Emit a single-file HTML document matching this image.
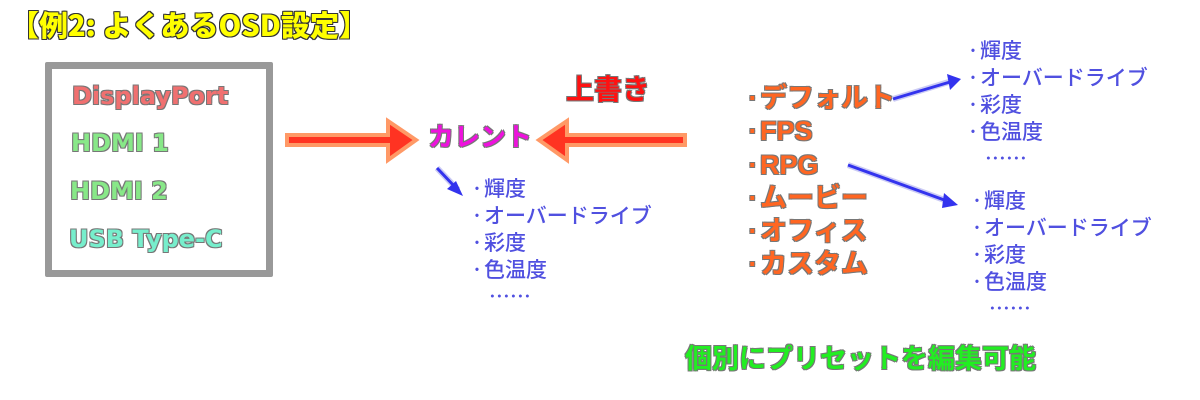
<!DOCTYPE html>
<html><head><meta charset="utf-8"><style>
body{margin:0;width:1200px;height:400px;background:#fff;position:relative;overflow:hidden;font-family:"Liberation Sans","Noto Sans CJK JP",sans-serif}
.t{position:absolute;white-space:nowrap;line-height:1}
.b{font-weight:bold}
.o{text-shadow:-1px -1px 0 #777,1px -1px 0 #777,-1px 1px 0 #777,1px 1px 0 #777}
.od{text-shadow:-1px -1px 0 #333,1px -1px 0 #333,-1px 1px 0 #333,1px 1px 0 #333,0 1px 0 #333,0 -1px 0 #333,1px 0 0 #333,-1px 0 0 #333}
.blue{color:#5050e0;font-size:21px;line-height:27px;font-family:"Noto Sans CJK JP",sans-serif;font-weight:500}
.blue span{display:inline-block;width:14px;text-align:center}
.pre{color:#ff6622;font-size:27px;font-weight:bold;line-height:33.3px}
.pre span{display:inline-block;width:14px;text-align:center}
</style></head><body>
<div class="t b od" style="left:10px;top:10px;font-size:29px;color:#ffff00;font-family:'Noto Sans CJK JP',sans-serif;font-weight:900">【例2: よくあるOSD設定】</div>
<div style="position:absolute;left:45px;top:62px;width:214px;height:201px;border:7px solid #999;border-radius:2px"></div>
<div class="t b o" style="left:72px;top:84px;font-size:24px;color:#f07070;font-family:'DejaVu Sans',sans-serif">DisplayPort</div>
<div class="t b o" style="left:71px;top:131px;font-size:24px;color:#88e888;font-family:'DejaVu Sans',sans-serif">HDMI 1</div>
<div class="t b o" style="left:70px;top:179px;font-size:24px;color:#88e888;font-family:'DejaVu Sans',sans-serif">HDMI 2</div>
<div class="t b o" style="left:69px;top:227px;font-size:24px;color:#77eecc;font-family:'DejaVu Sans',sans-serif">USB Type-C</div>
<svg width="1200" height="400" style="position:absolute;left:0;top:0">
<polygon points="287,135 388,135 388,121 416,140 388,160 388,145 287,145" fill="#ff3322" stroke="#ff9966" stroke-width="4"/>
<polygon points="685,135 567,135 567,121 539,140 567,160 567,145 685,145" fill="#ff3322" stroke="#ff9966" stroke-width="4"/>
<g stroke="#aaaaee" stroke-width="6" opacity="0.6"><line x1="437" y1="168" x2="458" y2="190"/><line x1="893" y1="99" x2="952" y2="81"/><line x1="848" y1="165" x2="950" y2="202"/></g>
<g stroke="#3333ee" stroke-width="3" fill="#3333ee">
<line x1="437" y1="168" x2="456" y2="188"/><polygon points="463,196 447,189 456,181" stroke="none"/>
<line x1="893" y1="99" x2="950" y2="82"/><polygon points="961,79 947,74 950,90" stroke="none"/>
<line x1="848" y1="165" x2="947" y2="201"/><polygon points="958,205 944,193 942,208" stroke="none"/>
</g></svg>
<div class="t b o" style="left:428px;top:124px;font-size:26px;color:#ee11dd">カレント</div>
<div class="t b o" style="left:566px;top:76px;font-size:28px;color:#ff1111">上書き</div>
<div class="t blue" style="left:470px;top:175px"><span>·</span>輝度<br><span>·</span>オーバードライブ<br><span>·</span>彩度<br><span>·</span>色温度<br>&nbsp;&nbsp;&nbsp;&nbsp;……</div>
<div class="t pre o" style="left:746px;top:82px"><span>·</span>デフォルト<br><span>·</span>FPS<br><span>·</span>RPG<br><span>·</span>ムービー<br><span>·</span>オフィス<br><span>·</span>カスタム</div>
<div class="t blue" style="left:966px;top:37px"><span>·</span>輝度<br><span>·</span>オーバードライブ<br><span>·</span>彩度<br><span>·</span>色温度<br>&nbsp;&nbsp;&nbsp;&nbsp;……</div>
<div class="t blue" style="left:970px;top:187px"><span>·</span>輝度<br><span>·</span>オーバードライブ<br><span>·</span>彩度<br><span>·</span>色温度<br>&nbsp;&nbsp;&nbsp;&nbsp;……</div>
<div class="t b o" style="left:685px;top:346px;font-size:27px;color:#22ee22">個別にプリセットを編集可能</div>
</body></html>
